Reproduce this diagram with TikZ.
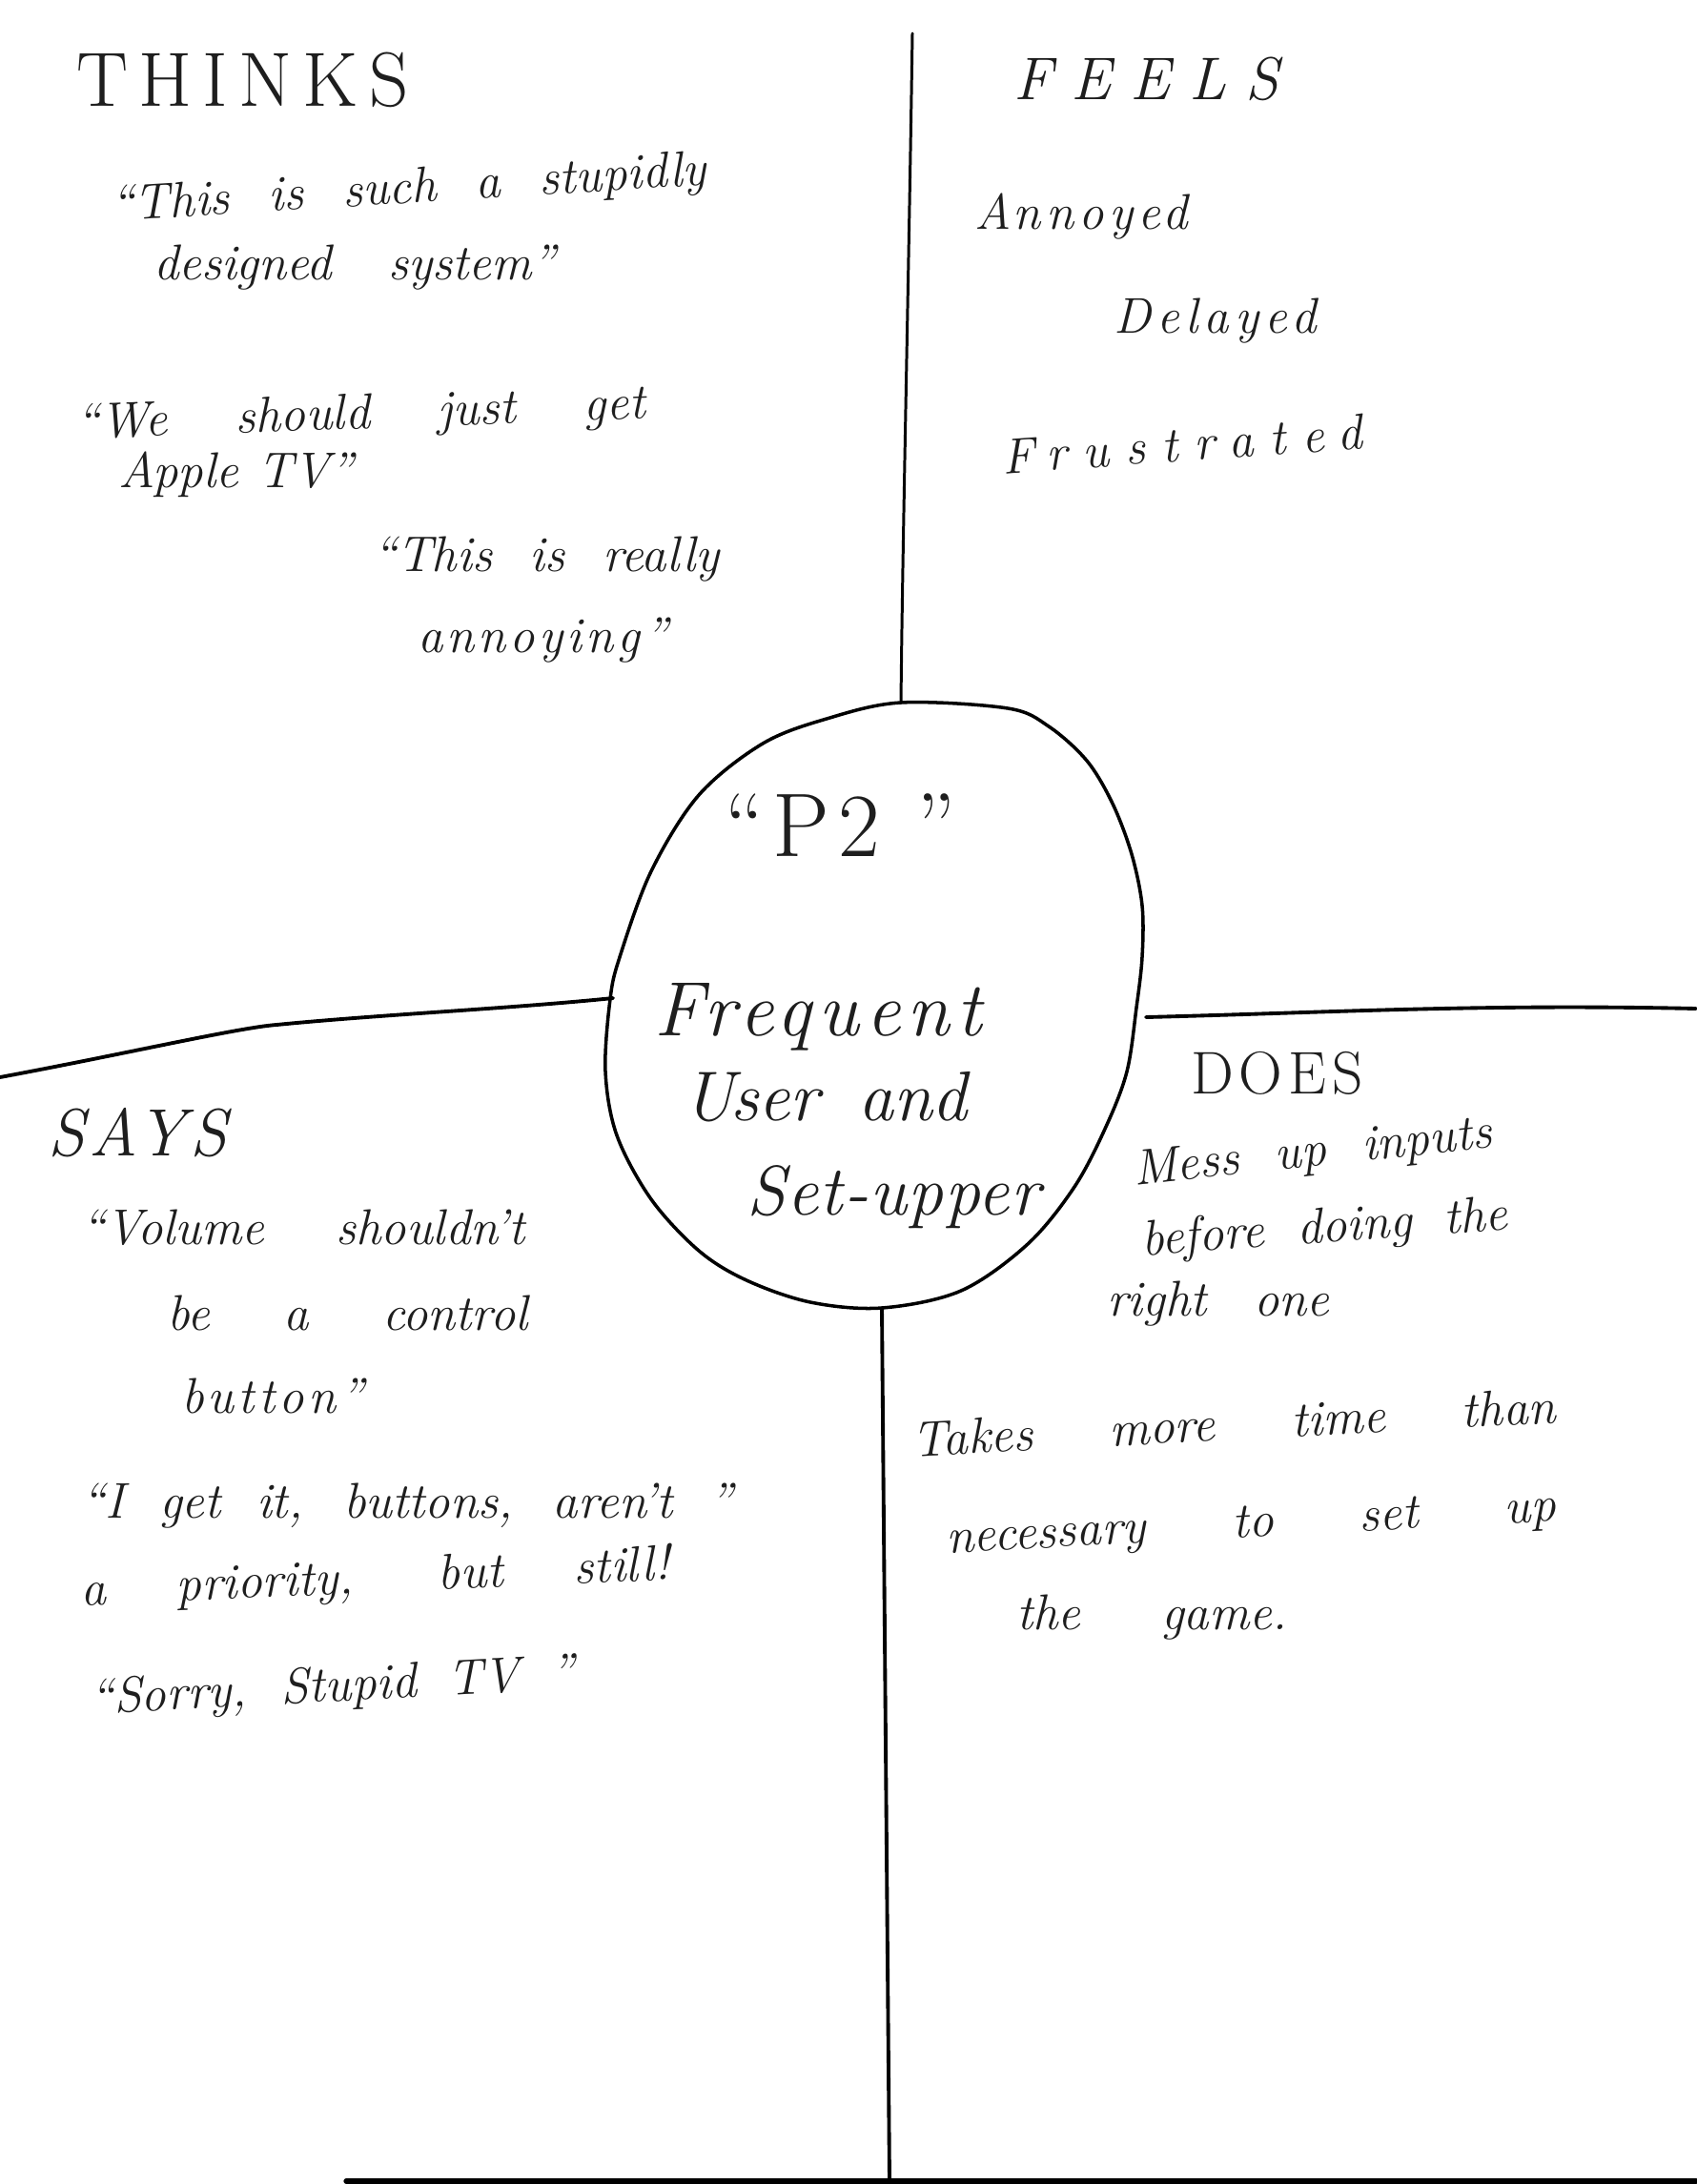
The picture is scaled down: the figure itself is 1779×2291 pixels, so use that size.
\documentclass[tikz,border=0pt]{standalone}
\usepackage{fontspec}
\setmainfont{Latin Modern Roman}
\definecolor{ink}{HTML}{1E1E1E}
% one unit of the picture, as a TeX length
\newlength\pxu
\setlength\pxu{0.56693pt}
% a handwritten line spread to a given width, with optional letter spacing
\newcommand\hwline[3][0]{{\addfontfeature{LetterSpace=#1}\makebox[#2\pxu][s]{#3}}}
\newcommand\hwword[2][0]{{\addfontfeature{LetterSpace=#1}#2}}
\begin{document}
\begin{tikzpicture}[x=0.02cm,y=-0.02cm,
  pen/.style={draw=black,line width=2.2pt,line cap=round,line join=round},
  hand/.style={anchor=base west,inner sep=0pt,outer sep=0pt,text=ink,
    font=\fontsize{30}{36}\selectfont\itshape},
  head/.style={anchor=base west,inner sep=0pt,outer sep=0pt,text=ink,
    font=\fontsize{44}{50}\selectfont},
  core/.style={anchor=base west,inner sep=0pt,outer sep=0pt,text=ink,
    font=\fontsize{42}{48}\selectfont\itshape}]
\useasboundingbox (0,0) rectangle (1779,2291);
\fill[white] (0,0) rectangle (1779,2291);

% quadrant dividers meet the central circle at these points
\coordinate (topEnd) at (957,35);
\coordinate (cTop) at (945,737);
\coordinate (leftEnd) at (0,1130);
\coordinate (cLeft) at (643,1047);
\coordinate (cRight) at (1202,1067);
\coordinate (rightEnd) at (1779,1058);
\coordinate (cBottom) at (925,1372);
\coordinate (bottomEnd) at (933,2288);
\coordinate (baseL) at (363,2288);
\coordinate (baseR) at (1779,2288);

% central persona circle
\draw[pen,line width=2pt] plot[smooth cycle,tension=0.55] coordinates {
  (945,737) (1057,743) (1100,762) (1140,798) (1167,843) (1187,896)
  (1198,950) (1198,1004) (1192,1057) (1182,1124) (1160,1182) (1127,1245)
  (1078,1305) (1008,1354) (925,1372) (850,1366) (783,1343)
  (733,1312) (683,1258) (647,1191) (635,1124) (640,1048) (650,1004)
  (683,914) (733,834) (800,780) (867,754)};

% dividers
\draw[pen,line width=1.7pt] (topEnd) .. controls (953,300) and (947,550) .. (cTop);
\draw[pen] (leftEnd) .. controls (134,1105) and (250,1078) .. (290,1075)
  .. controls (402,1064) and (536,1058) .. (cLeft);
\draw[pen] (cRight) .. controls (1400,1062) and (1550,1053) .. (rightEnd);
\draw[pen] (cBottom) -- (bottomEnd);
\draw[pen,line width=3pt] (baseL) -- (baseR);

% THINKS
\node[head,font=\fontsize{46}{52}\selectfont] (thinks) at (80,112) {\hwword[14]{THINKS}};
\node[hand,rotate=3.5] (t1) at (117,232) {\hwline{628}{“This is such a stupidly}};
\node[hand] (t2) at (161,294) {\hwline{423}{designed system”}};
\node[hand,rotate=2] (t3) at (80,460) {\hwline{600}{“We should just get}};
\node[hand] (t4) at (124,511) {\hwline{248}{Apple TV”}};
\node[hand] (t5) at (391,599) {\hwline{365}{“This is really}};
\node[hand] (t6) at (438,684) {\hwword[8]{annoying”}};

% FEELS
\node[head,font=\fontsize{36}{42}\selectfont\itshape] (feels) at (1063,105) {\hwword[32]{FEELS}};
\node[hand] (f1) at (1022,241) {\hwword[10]{Annoyed}};
\node[hand] (f2) at (1168,350) {\hwword[12]{Delayed}};
\node[hand,rotate=4] (f3) at (1052,497) {\hwword[32]{Frustrated}};

% persona
\node[core,font=\fontsize{54}{60}\selectfont] (p2) at (760,898) {\hwword[10]{“P2 ”}};
\node[core,font=\fontsize{46}{52}\selectfont\itshape] (p3) at (686,1086) {\hwword[9]{Frequent}};
\node[core] (p4) at (716,1175) {\hwline{300}{User and}};
\node[core] (p5) at (783,1274) {\hwword[2]{Set-upper}};

% SAYS
\node[head,font=\fontsize{40}{46}\selectfont\itshape] (says) at (51,1212) {\hwword[6]{SAYS}};
\node[hand] (s1) at (85,1305) {\hwline{467}{“Volume shouldn't}};
\node[hand] (s2) at (175,1395) {\hwline{380}{be a control}};
\node[hand] (s3) at (190,1482) {\hwword[8]{button”}};
\node[hand] (s4) at (85,1592) {\hwline{686}{“I get it, buttons, aren't ”}};
\node[hand,rotate=2.5] (s5) at (85,1684) {\hwline{621}{a priority, but still!}};
\node[hand,rotate=3] (s6) at (95,1798) {\hwline{511}{“Sorry, Stupid TV ”}};

% DOES
\node[head,font=\fontsize{36}{42}\selectfont] (does) at (1249,1147) {\hwword[10]{DOES}};
\node[hand,rotate=6] (d1) at (1190,1243) {\hwline{380}{Mess up inputs}};
\node[hand,rotate=4] (d2) at (1198,1317) {\hwline{387}{before doing the}};
\node[hand] (d3) at (1161,1380) {\hwline{234}{right one}};
\node[hand,rotate=3] (d4) at (957,1528) {\hwline{679}{Takes more time than}};
\node[hand,rotate=3] (d5) at (993,1629) {\hwline{643}{necessary to set up}};
\node[hand] (d6) at (1066,1709) {\hwline{285}{the game.}};
\end{tikzpicture}
\end{document}
